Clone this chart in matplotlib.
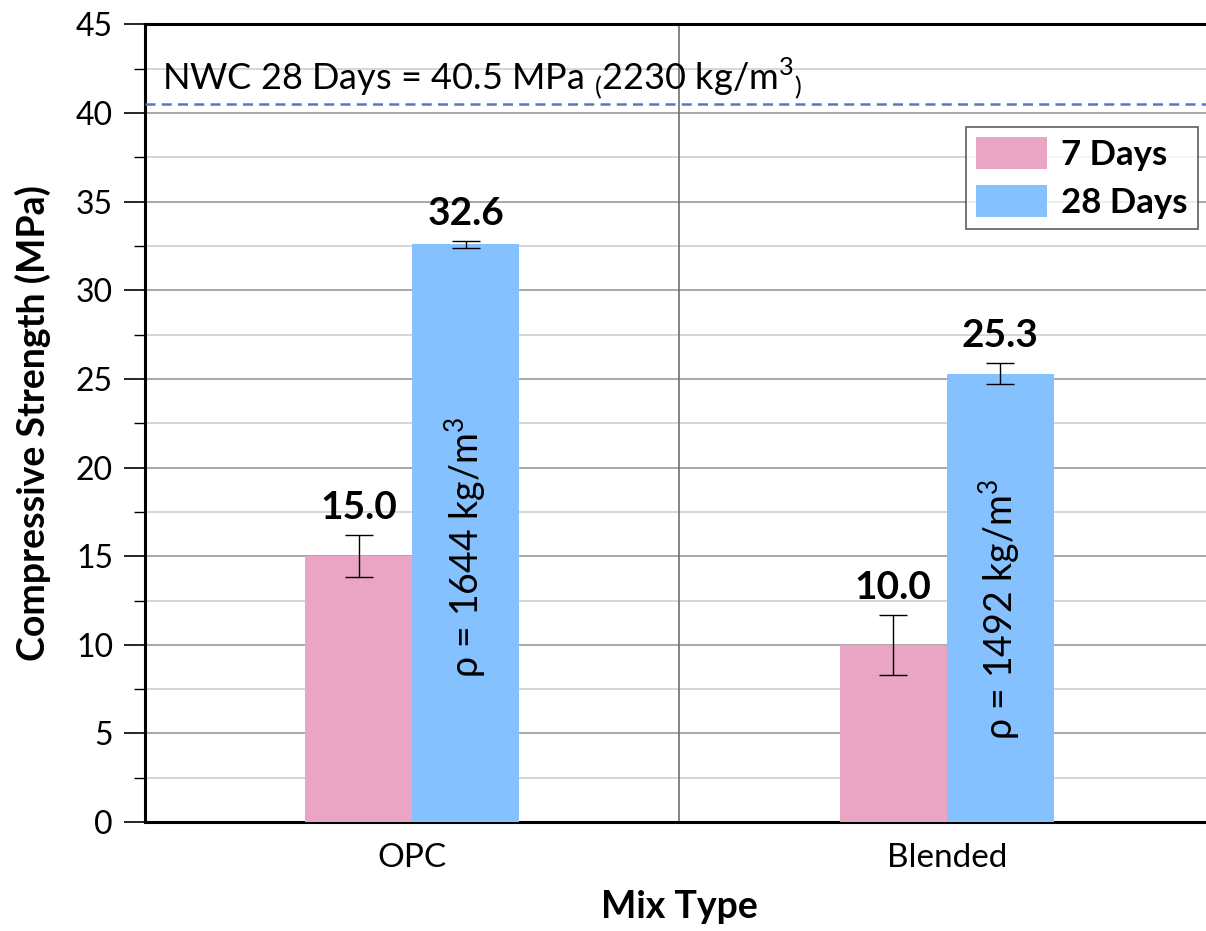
import matplotlib
matplotlib.use("Agg")
import matplotlib.pyplot as plt
import numpy as np

plt.rcParams['font.family'] = ['Lato', 'DejaVu Sans']
plt.rcParams['mathtext.fontset'] = 'custom'
plt.rcParams['mathtext.rm'] = 'Lato'

mixes = ["OPC", "Blended"]
series = ["7 Days", "28 Days"]
strength_7 = [15.0, 10.0]
err_7 = [1.2, 1.7]
strength_28 = [32.6, 25.3]
err_28 = [0.2, 0.6]
density = [1644, 1492]
nwc_strength = 40.5
nwc_density = 2230

pink = "#E9A5C3"
blue = "#85C1FF"

fig, ax = plt.subplots(figsize=(12.06, 9.31), dpi=100)
fig.subplots_adjust(left=0.1202, right=1.0066, top=0.9737, bottom=0.117)

x = np.arange(len(mixes))
w = 0.2
ax.bar(x - w / 2, strength_7, w, color=pink, label=series[0], zorder=3)
ax.bar(x + w / 2, strength_28, w, color=blue, label=series[1], zorder=3)
ax.errorbar(x - w / 2, strength_7, yerr=err_7, fmt="none", ecolor="black",
            elinewidth=1, capsize=10, capthick=1, zorder=4)
ax.errorbar(x + w / 2, strength_28, yerr=err_28, fmt="none", ecolor="black",
            elinewidth=1, capsize=10, capthick=1, zorder=4)

# value labels above the error bars
for xi, v, e in zip(x - w / 2, strength_7, err_7):
    ax.text(xi, v + e + 0.55, f"{v:.1f}", ha="center", va="bottom",
            fontsize=28, fontweight="bold", zorder=5)
for xi, v, e in zip(x + w / 2, strength_28, err_28):
    ax.text(xi, v + e + 0.55, f"{v:.1f}", ha="center", va="bottom",
            fontsize=28, fontweight="bold", zorder=5)

# density text inside the 28-day bars
for xi, v, d in zip(x + w / 2, strength_28, density):
    ax.text(xi, v * 0.475, f"ρ = {d} kg/m$^3$", rotation=90, ha="center",
            va="center", fontsize=27, zorder=5)

# NWC reference line
ax.axhline(nwc_strength, color="#6272C2", ls=(0, (4, 2.5)), lw=1.8, zorder=3)
ax.text(-0.468, 41.35,
        f"NWC 28 Days = {nwc_strength} MPa " + r"${}_{(}$"
        + f"{nwc_density} kg/m" + r"$^{3}$${}_{)}$",
        fontsize=26, va="baseline", ha="left", zorder=5)

# separator between categories
ax.axvline(0.5, color="#707070", lw=1.2, zorder=2)

ax.set_xlim(-0.5, 1.5)
ax.set_ylim(0, 45)
ax.set_xticks(x)
ax.set_xticklabels(mixes, fontsize=24)
ax.set_yticks(np.arange(0, 46, 5))
ax.set_yticks(np.arange(2.5, 45, 5), minor=True)
ax.tick_params(axis="y", which="major", labelsize=23, length=15, width=1.2,
               direction="out", pad=8)
ax.tick_params(axis="y", which="minor", length=8, width=1.0, direction="out")
ax.tick_params(axis="x", length=0, pad=15)

ax.grid(axis="y", which="major", color="#9A9A9A", lw=1.2, zorder=0)
ax.grid(axis="y", which="minor", color="#D0D0D0", lw=1.2, zorder=0)
ax.set_axisbelow(True)

for s in ["left", "bottom", "top"]:
    ax.spines[s].set_linewidth(2.2)
ax.spines["right"].set_visible(False)

ax.set_ylabel("Compressive Strength (MPa)", fontsize=27, fontweight="bold",
              labelpad=18)
ax.set_xlabel("Mix Type", fontsize=27, fontweight="bold", labelpad=12)

leg = ax.legend(loc="upper right", bbox_to_anchor=(0.985, 0.8715),
                prop={"weight": "bold", "size": 25}, frameon=True, fancybox=False,
                handlelength=2.05, handleheight=1.04, borderpad=0.3,
                labelspacing=0.4, handletextpad=0.4, borderaxespad=0)
leg.get_frame().set_edgecolor("#333333")
leg.get_frame().set_linewidth(1.2)

fig.savefig("out.png", dpi=100)
